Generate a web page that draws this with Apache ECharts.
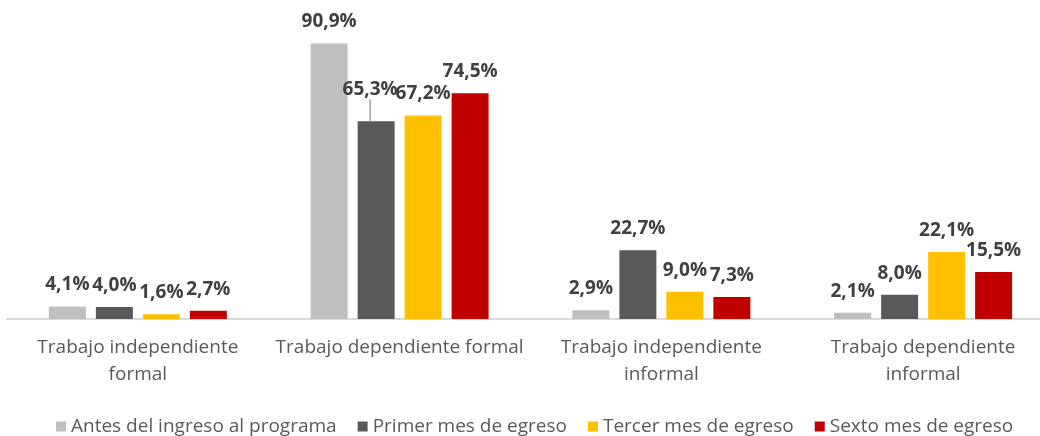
<!DOCTYPE html>
<html>
<head>
<meta charset="utf-8">
<script src="https://cdn.jsdelivr.net/npm/echarts@6/dist/echarts.min.js"></script>
<style>
  html, body { margin: 0; padding: 0; background: #fff; overflow: hidden; }
  /* el grafico original queda recortado por la derecha */
  #chart { width: 1054px; height: 436px; }
</style>
</head>
<body>
<div id="chart"></div>
<script>
// categorias del eje x
var categorias = [
        'Trabajo independiente\nformal',
        'Trabajo dependiente formal',
        'Trabajo independiente\ninformal',
        'Trabajo dependiente\ninformal'
];

// nombres de las series
var nombres = [
        'Antes del ingreso al programa',
        'Primer mes de egreso',
        'Tercer mes de egreso',
        'Sexto mes de egreso'
];

// valores (%) por serie
var antes = [4.1, 90.9, 2.9, 2.1];
var primerMes = [4.0, 65.3, 22.7, 8.0];
var tercerMes = [1.6, 67.2, 9.0, 22.1];
var sextoMes = [2.7, 74.5, 7.3, 15.5];

var colores = ['#BFBFBF', '#595959', '#FFC000', '#C00000'];

var fuente = '"Open Sans", "DejaVu Sans", sans-serif';

function serie(i, datos) {
        return {
                name: nombres[i],
                type: 'bar',
                data: datos,
                barWidth: 37,
                barGap: '27%',
                itemStyle: { color: colores[i] },
                label: {
                        show: true,
                        position: 'top',
                        distance: 12,
                        fontFamily: fuente,
                        fontSize: 19,
                        fontWeight: 'bold',
                        color: '#404040',
                        formatter: function (p) {
                                return p.value.toFixed(1).replace('.', ',') + '%';
                        }
                },
                labelLine: { show: false }
        };
}

var series = [
        serie(0, antes),
        serie(1, primerMes),
        serie(2, tercerMes),
        serie(3, sextoMes)
];

// la etiqueta 65,3% esta desplazada con linea guia
series[1].data = primerMes.map(function (v, i) {
        if (i === 1) {
                return {
                        value: v,
                        labelLine: { show: true, lineStyle: { color: '#A6A6A6', width: 1.5 } }
                };
        }
        return v;
});
series[1].labelLayout = function (p) {
        if (p.dataIndex === 1) {
                return { dx: -6, dy: -10 };
        }
};

var option = {
        backgroundColor: '#ffffff',
        animation: false,
        grid: {
                left: 7,
                top: 16,
                right: 0,
                bottom: 117
        },
        legend: {
                data: nombres,
                bottom: -5,
                left: 51,
                icon: 'rect',
                itemWidth: 10,
                itemHeight: 10,
                itemGap: 21,
                textStyle: {
                        fontFamily: fuente,
                        fontSize: 19,
                        color: '#595959'
                }
        },
        xAxis: {
                type: 'category',
                data: categorias,
                axisLine: { lineStyle: { color: '#D9D9D9', width: 2 } },
                axisTick: { show: false },
                axisLabel: {
                        interval: 0,
                        margin: 15,
                        fontFamily: fuente,
                        fontSize: 19,
                        lineHeight: 27,
                        color: '#595959'
                }
        },
        yAxis: {
                type: 'value',
                min: 0,
                max: 100,
                show: false,
                splitLine: { show: false }
        },
        series: series
};

var chart = echarts.init(document.getElementById('chart'));
chart.setOption(option);
</script>
</body>
</html>
